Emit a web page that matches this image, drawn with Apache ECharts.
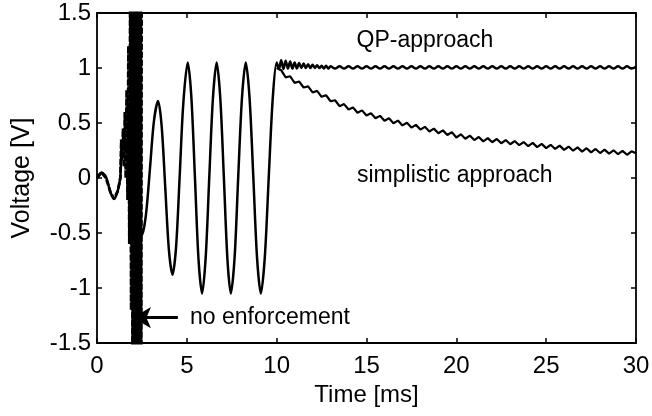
<!DOCTYPE html>
<html><head><meta charset="utf-8">
<script src="https://cdn.jsdelivr.net/npm/echarts@6/dist/echarts.min.js"></script>
<style>html,body{margin:0;padding:0;background:#fff}#c{width:652px;height:416px}</style>
</head><body><div id="c"></div>
<script>
// ---- data ----
const xTicks = [0, 5, 10, 15, 20, 25, 30];
const yTicks = [-1.5, -1, -0.5, 0, 0.5, 1, 1.5];

// QP-approach (solid)
const qpT = [0, 0.25, 0.5, 0.75, 0.95, 1.15, 1.3, 1.38, 1.5, 1.8, 2.1, 2.5,
  2.72, 2.95, 3.17, 3.4, 3.6, 3.8, 4.0, 4.2, 4.4, 4.6, 4.8, 5.05,
  5.25, 5.45, 5.65, 5.85, 6.05, 6.25, 6.45, 6.66, 6.86, 7.06, 7.26, 7.45,
  7.66, 7.86, 8.07, 8.28, 8.49, 8.7, 8.91, 9.12, 9.34, 9.56, 9.78, 10.0,
  10.125, 10.25, 10.375, 10.5, 10.625, 10.75, 10.875, 11.0, 11.125, 11.25, 11.375, 11.5,
  11.625, 11.75, 11.875, 12.0, 12.125, 12.25, 12.375, 12.5, 12.625, 12.75, 12.875, 13.0,
  13.25, 13.5, 13.75, 14.0, 14.25, 14.5, 14.75, 15.0, 15.25, 15.5, 15.75, 16.0,
  16.25, 16.5, 16.75, 17.0, 17.25, 17.5, 17.75, 18.0, 18.25, 18.5, 18.75, 19.0,
  19.25, 19.5, 19.75, 20.0, 20.25, 20.5, 20.75, 21.0, 21.25, 21.5, 21.75, 22.0,
  22.25, 22.5, 22.75, 23.0, 23.25, 23.5, 23.75, 24.0, 24.25, 24.5, 24.75, 25.0,
  25.25, 25.5, 25.75, 26.0, 26.25, 26.5, 26.75, 27.0, 27.25, 27.5, 27.75, 28.0,
  28.25, 28.5, 28.75, 29.0, 29.25, 29.5, 29.75, 30.0];
const qpV = [0, 0.05, 0.01, -0.13, -0.19, -0.12, 0.01, 0.3, 0.35, 0.15, -0.15, -0.52,
  -0.34, 0.09, 0.52, 0.7, 0.47, -0.09, -0.65, -0.88, -0.63, 0.01, 0.67, 1.05,
  0.74, 0.01, -0.74, -1.05, -0.72, 0.01, 0.72, 1.05, 0.73, 0.01, -0.74, -1.05,
  -0.72, 0.01, 0.73, 1.05, 0.73, 0.01, -0.73, -1.05, -0.72, 0.01, 0.72, 1.05,
  0.99, 1.07, 0.99, 1.065, 0.995, 1.06, 0.995, 1.05, 0.995, 1.045, 1.0, 1.04,
  1.0, 1.035, 1.0, 1.03, 1.0, 1.025, 1.0, 1.02, 0.995, 1.02, 0.995, 1.015,
  0.995, 1.015, 0.995, 1.015, 0.995, 1.015, 0.995, 1.015, 0.995, 1.015, 0.995, 1.015,
  0.995, 1.015, 0.995, 1.015, 0.995, 1.015, 0.995, 1.015, 0.995, 1.015, 0.995, 1.015,
  0.995, 1.015, 0.995, 1.015, 0.995, 1.015, 0.995, 1.015, 0.995, 1.015, 0.995, 1.015,
  0.995, 1.015, 0.995, 1.015, 0.995, 1.015, 0.995, 1.015, 0.995, 1.015, 0.995, 1.015,
  0.995, 1.015, 0.995, 1.015, 0.995, 1.015, 0.995, 1.015, 0.995, 1.015, 0.995, 1.015,
  0.995, 1.015, 0.995, 1.015, 0.995, 1.015, 0.995, 1.01];

// simplistic approach (jagged)
const simpT = [10.0, 10.25, 10.5, 10.75, 11.0, 11.25, 11.5, 11.75, 12.0, 12.25, 12.5, 12.75,
  13.0, 13.25, 13.5, 13.75, 14.0, 14.25, 14.5, 14.75, 15.0, 15.25, 15.5, 15.75,
  16.0, 16.25, 16.5, 16.75, 17.0, 17.25, 17.5, 17.75, 18.0, 18.25, 18.5, 18.75,
  19.0, 19.25, 19.5, 19.75, 20.0, 20.25, 20.5, 20.75, 21.0, 21.25, 21.5, 21.75,
  22.0, 22.25, 22.5, 22.75, 23.0, 23.25, 23.5, 23.75, 24.0, 24.25, 24.5, 24.75,
  25.0, 25.25, 25.5, 25.75, 26.0, 26.25, 26.5, 26.75, 27.0, 27.25, 27.5, 27.75,
  28.0, 28.25, 28.5, 28.75, 29.0, 29.25, 29.5, 29.75, 30.0];
const simpV = [1.0, 0.98, 0.915, 0.925, 0.865, 0.877, 0.823, 0.833, 0.778, 0.792, 0.738, 0.752,
  0.698, 0.707, 0.653, 0.672, 0.623, 0.642, 0.593, 0.615, 0.568, 0.589, 0.543, 0.565,
  0.52, 0.543, 0.498, 0.522, 0.478, 0.502, 0.458, 0.483, 0.44, 0.465, 0.423, 0.449,
  0.407, 0.433, 0.391, 0.417, 0.368, 0.397, 0.357, 0.385, 0.345, 0.373, 0.333, 0.362,
  0.325, 0.355, 0.316, 0.345, 0.307, 0.336, 0.298, 0.327, 0.289, 0.319, 0.281, 0.31,
  0.272, 0.302, 0.264, 0.294, 0.256, 0.286, 0.248, 0.278, 0.24, 0.271, 0.233, 0.264,
  0.227, 0.258, 0.221, 0.252, 0.216, 0.247, 0.211, 0.243, 0.224];

// no enforcement (dashed, diverging)
const noEnfT = [0, 0.25, 0.5, 0.75, 0.95, 1.15, 1.3, 1.35, 1.4, 1.45, 1.5, 1.55, 1.6,
  1.65, 1.7, 1.75, 1.8, 1.85, 1.9, 1.95, 1.98, 2.01, 2.04, 2.07, 2.1, 2.13, 2.16,
  2.19, 2.22, 2.25, 2.28, 2.31, 2.34, 2.37, 2.4, 2.43, 2.46, 2.49];
const noEnfV = [0, 0.05, 0.0, -0.13, -0.19, -0.12, 0.0, 0.35, 0.15, 0.45, 0.1, 0.6, 0.0,
  0.8, -0.2, 1.2, -0.6, 1.8, -1.2, 2.5, -2.5, 3, -3, 3, -3, 3, -3,
  3, -3, 3, -3, 3, -3, 3, -3, 3, -3, 3];

const pairs = (t, v) => t.map((x, i) => [x, v[i]]);
const FONT = "'Liberation Sans', Arial, Helvetica, sans-serif";

const chart = echarts.init(document.getElementById('c'), null, {renderer: 'canvas'});

const axisCommon = {
  axisLine: {show: true, onZero: false, lineStyle: {color: '#000', width: 1.8}},
  axisTick: {show: true, inside: true, length: 5, lineStyle: {color: '#000', width: 1.5}},
  splitLine: {show: false}
};

chart.setOption({
  animation: false,
  backgroundColor: '#fff',
  grid: {left: 97, right: 16, top: 13, bottom: 73, containLabel: false, outerBoundsMode: 'none'},
  xAxis: [
    Object.assign({
      type: 'value', min: xTicks[0], max: xTicks[xTicks.length - 1], interval: 5,
      position: 'bottom',
      name: 'Time [ms]', nameLocation: 'middle', nameGap: 36,
      nameTextStyle: {fontFamily: FONT, fontSize: 24, color: '#000'},
      axisLabel: {show: true, fontFamily: FONT, fontSize: 24, color: '#000', margin: 11,
        customValues: xTicks}
    }, axisCommon),
    Object.assign({
      type: 'value', min: xTicks[0], max: xTicks[xTicks.length - 1], interval: 5,
      position: 'top', axisLabel: {show: false}
    }, axisCommon)
  ],
  yAxis: [
    Object.assign({
      type: 'value', min: yTicks[0], max: yTicks[yTicks.length - 1], interval: 0.5,
      position: 'left',
      name: 'Voltage [V]', nameLocation: 'middle', nameGap: 62,
      nameTextStyle: {fontFamily: FONT, fontSize: 25, color: '#000'},
      axisLabel: {show: true, fontFamily: FONT, fontSize: 24, color: '#000', margin: 6,
        customValues: yTicks}
    }, axisCommon),
    Object.assign({
      type: 'value', min: yTicks[0], max: yTicks[yTicks.length - 1], interval: 0.5,
      position: 'right', axisLabel: {show: false}
    }, axisCommon)
  ],
  series: [
    {
      name: 'no enforcement', type: 'line', data: pairs(noEnfT, noEnfV),
      showSymbol: false, clip: true,
      lineStyle: {color: '#000', width: 2.8, type: [6, 2]}
    },
    {
      name: 'simplistic approach', type: 'line', data: pairs(simpT, simpV),
      showSymbol: false, clip: true,
      lineStyle: {color: '#000', width: 2.2}
    },
    {
      name: 'QP-approach', type: 'line', data: pairs(qpT, qpV),
      showSymbol: false, clip: true, smooth: 0.3,
      lineStyle: {color: '#000', width: 2.5},
      markLine: {
        silent: true, animation: false,
        symbol: ['none', 'arrow'], symbolSize: [16, 18],
        label: {show: false},
        lineStyle: {color: '#000', width: 3, type: 'solid'},
        data: [[{coord: [4.5, -1.27]}, {coord: [2.0, -1.27]}]]
      }
    }
  ]
});

function place() {
  const notes = [
    {text: 'QP-approach', at: [18.25, 1.25], align: 'center'},
    {text: 'simplistic approach', at: [14.47, 0.02], align: 'left'},
    {text: 'no enforcement', at: [5.18, -1.27], align: 'left'}
  ];
  chart.setOption({
    graphic: notes.map(n => {
      const p = chart.convertToPixel({gridIndex: 0}, n.at);
      return {
        type: 'text', x: p[0], y: p[1], silent: true,
        style: {text: n.text, fontFamily: FONT, fontSize: 23, fill: '#000',
          align: n.align, verticalAlign: 'middle'}
      };
    })
  });
}
place();
</script>
</body></html>
